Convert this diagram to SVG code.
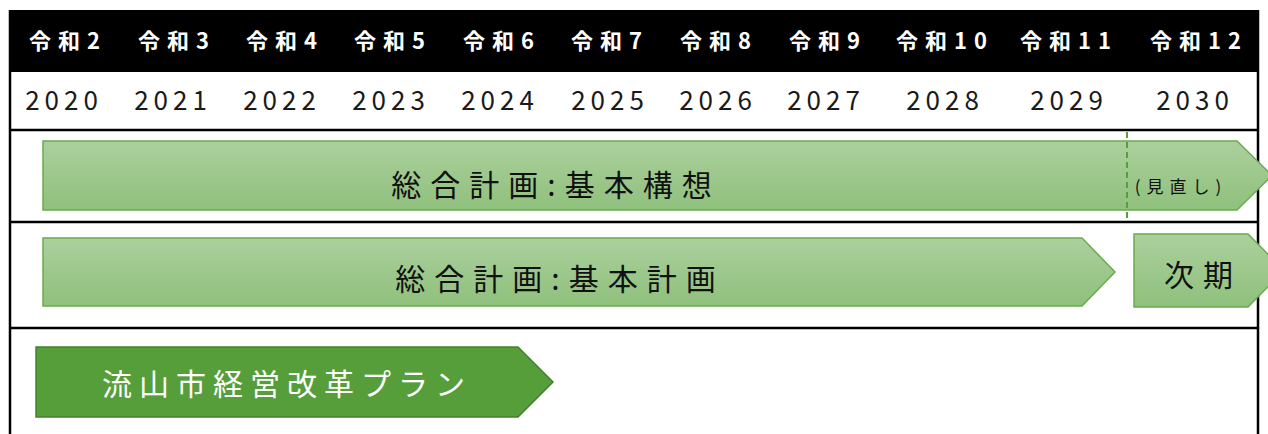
<svg xmlns="http://www.w3.org/2000/svg" width="1268" height="434" viewBox="0 0 1268 434">
<defs>
<linearGradient id="g" x1="0" y1="0" x2="0" y2="1">
<stop offset="0" stop-color="#abd09d"/>
<stop offset="1" stop-color="#8fc07c"/>
</linearGradient>
<style>
.hd{font-family:"Noto Sans CJK JP","Noto Sans",sans-serif;font-weight:bold;font-size:22px;fill:#fff;text-anchor:middle;letter-spacing:7px}
.yr{font-family:"Noto Sans CJK JP","Noto Sans",sans-serif;font-size:26px;fill:#1a1a1a;text-anchor:middle;letter-spacing:5px}
.bar{fill:url(#g);stroke:#6aab4e;stroke-width:1.5}
.bt{font-family:"Noto Sans CJK JP",sans-serif;font-size:30px;fill:#111;text-anchor:middle;letter-spacing:9px}
.grid{stroke:#000;stroke-width:2.5;fill:none}
</style>
</defs>
<rect width="1268" height="434" fill="#fff"/>
<g id="table">
<rect x="10" y="10" width="1248" height="62" fill="#000"/>
<line class="grid" x1="10" y1="10" x2="10" y2="434"/>
<line class="grid" x1="1258" y1="10" x2="1258" y2="434"/>
<line class="grid" x1="10" y1="130" x2="1258" y2="130"/>
<line class="grid" x1="10" y1="222" x2="1258" y2="222"/>
<line class="grid" x1="10" y1="328" x2="1258" y2="328"/>
</g>
<g id="headers">
<text class="hd" x="68" y="49">令和2</text>
<text class="hd" x="177" y="49">令和3</text>
<text class="hd" x="285" y="49">令和4</text>
<text class="hd" x="393" y="49">令和5</text>
<text class="hd" x="502" y="49">令和6</text>
<text class="hd" x="610" y="49">令和7</text>
<text class="hd" x="719" y="49">令和8</text>
<text class="hd" x="828" y="49">令和9</text>
<text class="hd" x="945" y="49">令和10</text>
<text class="hd" x="1069" y="49">令和11</text>
<text class="hd" x="1199" y="49">令和12</text>
</g>
<g id="years">
<text class="yr" x="64" y="110">2020</text>
<text class="yr" x="173" y="110">2021</text>
<text class="yr" x="282" y="110">2022</text>
<text class="yr" x="391" y="110">2023</text>
<text class="yr" x="500" y="110">2024</text>
<text class="yr" x="610" y="110">2025</text>
<text class="yr" x="718" y="110">2026</text>
<text class="yr" x="826" y="110">2027</text>
<text class="yr" x="945" y="110">2028</text>
<text class="yr" x="1069" y="110">2029</text>
<text class="yr" x="1195" y="110">2030</text>
</g>
<g id="kihonkoso">
<polygon class="bar" points="43,141 1237,141 1272,175.5 1237,210 43,210"/>
<text class="bt" x="556" y="196">総合計画:基本構想</text>
<text x="1181" y="193" font-family="Noto Sans CJK JP,sans-serif" font-size="17" fill="#111" text-anchor="middle" letter-spacing="6">(見直し)</text>
</g>
<g id="kihonkeikaku">
<polygon class="bar" points="43,238 1082,238 1115,272 1082,306 43,306"/>
<text class="bt" x="560" y="290">総合計画:基本計画</text>
</g>
<g id="jiki">
<polygon class="bar" points="1134,234 1248,234 1284,270.5 1248,307 1134,307"/>
<text class="bt" x="1203" y="286" font-size="33" letter-spacing="10">次期</text>
</g>
<g id="plan">
<polygon points="36,347 518,347 553,382 518,417 36,417" fill="#559e3a" stroke="#43812c" stroke-width="1.5"/>
<text x="287" y="395" font-family="Noto Sans CJK JP,sans-serif" font-size="30" fill="#fff" text-anchor="middle" letter-spacing="7">流山市経営改革プラン</text>
</g>
<g id="connectors">
<line x1="1127" y1="132" x2="1127" y2="221" stroke="#5a9e3c" stroke-width="2" stroke-dasharray="6,4"/>
</g>
</svg>
